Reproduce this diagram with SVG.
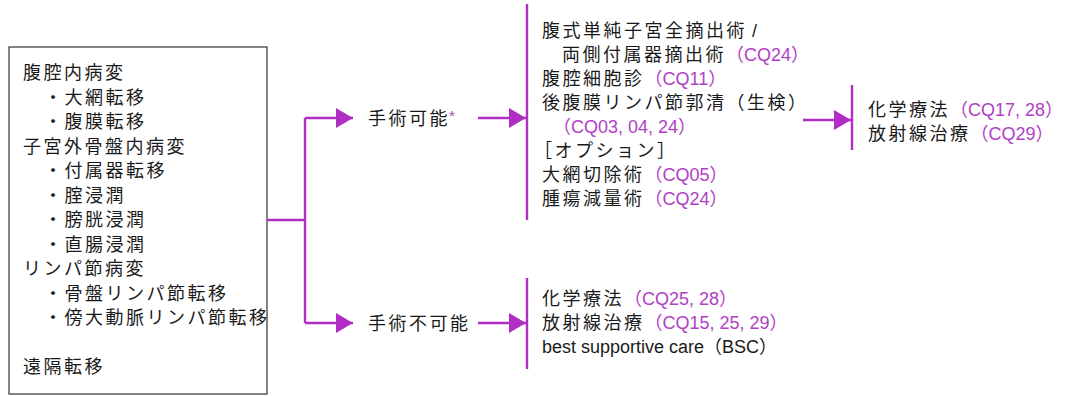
<svg xmlns="http://www.w3.org/2000/svg" width="1085" height="396" viewBox="0 0 1085 396">
<style>
text{font-family:"Noto Sans CJK JP","Noto Sans",sans-serif;font-size:18px;fill:#1a1a1a;letter-spacing:2.5px}
.cq{fill:#b13ec6;letter-spacing:0;font-family:"Liberation Sans","Noto Sans CJK JP",sans-serif}
.en{letter-spacing:0;font-family:"Liberation Sans","Noto Sans CJK JP",sans-serif}
.ln{stroke:#b02ec4;stroke-width:2.4;fill:none}
.ah{fill:#b02ec4}
</style>
<defs>
<marker id="arr" markerWidth="17" markerHeight="20" refX="17" refY="10" orient="auto" markerUnits="userSpaceOnUse">
<path d="M0,0 L17,10 L0,20 Z" class="ah"/>
</marker>
</defs>
<g id="box-conditions">
<rect x="9" y="47" width="258" height="347" fill="#fff" stroke="#333" stroke-width="1.2"/>
<text x="23" y="79">腹腔内病変</text>
<text x="44" y="103.5">・大網転移</text>
<text x="44" y="128">・腹膜転移</text>
<text x="23" y="152.5">子宮外骨盤内病変</text>
<text x="44" y="177">・付属器転移</text>
<text x="44" y="201.5">・腟浸潤</text>
<text x="44" y="226">・膀胱浸潤</text>
<text x="44" y="250.5">・直腸浸潤</text>
<text x="23" y="275">リンパ節病変</text>
<text x="44" y="299.5">・骨盤リンパ節転移</text>
<text x="44" y="324">・傍大動脈リンパ節転移</text>
<text x="23" y="373">遠隔転移</text>
</g>
<g id="node-operable">
<text x="368" y="125">手術可能<tspan class="cq" font-size="15" dx="-1" dy="-4">*</tspan></text>
</g>
<g id="node-inoperable">
<text x="368" y="330">手術不可能</text>
</g>
<g id="node-surgery">
<text x="542" y="37">腹式単純子宮全摘出術<tspan class="en"> /</tspan></text>
<text x="562" y="61">両側付属器摘出術<tspan class="cq">（CQ24）</tspan></text>
<text x="542" y="85">腹腔細胞診<tspan class="cq">（CQ11）</tspan></text>
<text x="542" y="109">後腹膜リンパ節郭清（生検）</text>
<text x="553" y="133" class="cq">（CQ03, 04, 24）</text>
<text x="534" y="157">［オプション］</text>
<text x="542" y="181">大網切除術<tspan class="cq">（CQ05）</tspan></text>
<text x="542" y="205">腫瘍減量術<tspan class="cq">（CQ24）</tspan></text>
</g>
<g id="node-adjuvant">
<text x="868" y="115.5">化学療法<tspan class="cq">（CQ17, 28）</tspan></text>
<text x="868" y="139.5">放射線治療<tspan class="cq">（CQ29）</tspan></text>
</g>
<g id="node-nonsurgical">
<text x="542" y="304.5">化学療法<tspan class="cq">（CQ25, 28）</tspan></text>
<text x="542" y="328.5">放射線治療<tspan class="cq">（CQ15, 25, 29）</tspan></text>
<text x="542" y="352.5" class="en">best supportive care（BSC）</text>
</g>
<g id="connectors">
<path class="ln" d="M267,220 H305 M305,118 V323"/>
<path class="ln" d="M305,118 H353" marker-end="url(#arr)"/>
<path class="ln" d="M305,323 H353" marker-end="url(#arr)"/>
<path class="ln" d="M478,118 H526" marker-end="url(#arr)"/>
<path class="ln" d="M478,323 H526" marker-end="url(#arr)"/>
<path class="ln" d="M803,120 H851" marker-end="url(#arr)"/>
<path class="ln" d="M527,4 V220 M527,278 V369 M852,85 V150"/>
</g>
</svg>
